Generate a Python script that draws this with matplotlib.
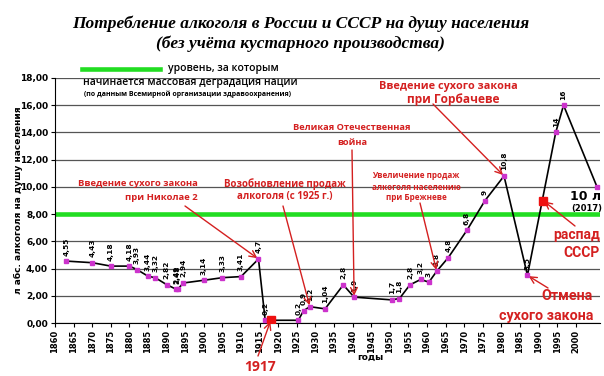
import matplotlib.pyplot as plt

# data
years = [1863, 1870, 1875, 1880, 1882, 1885, 1887, 1890, 1892.5, 1893, 1894.5,
         1900, 1905, 1910, 1914.7, 1916.5, 1925.4, 1926.8, 1928.5, 1932.6, 1937.5,
         1940.4, 1950.5, 1952.6, 1955.4, 1958.3, 1960.5, 1962.6, 1965.7, 1970.7,
         1975.6, 1980.7, 1987, 1994.6, 1996.7, 2005.7]
values = [4.55, 4.43, 4.18, 4.18, 3.93, 3.44, 3.32, 2.82, 2.49, 2.48, 2.94,
          3.14, 3.33, 3.41, 4.7, 0.2, 0.2, 0.9, 1.2, 1.04, 2.8,
          1.9, 1.7, 1.8, 2.8, 3.2, 3.0, 3.8, 4.8, 6.8,
          9.0, 10.8, 3.5, 14.0, 16.0, 10.0]
labels = ["4,55", "4,43", "4,18", "4,18", "3,93", "3,44", "3,32", "2,82", "2,49", "2,48", "2,94",
          "3,14", "3,33", "3,41", "4,7", "0,2", "0,2", "0,9", "1,2", "1,04", "2,8",
          "1,9", "1,7", "1,8", "2,8", "3,2", "3", "3,8", "4,8", "6,8",
          "9", "10,8", "3,5", "14", "16", ""]

# red squares: 1917 and USSR breakup
event_years = [1918, 1991.2]
event_values = [0.2, 9.0]

level = 8
xticks = list(range(1860, 2001, 5))
yticks = list(range(0, 19, 2))

RED = '#d42020'
W, H = 604, 376

fig = plt.figure(figsize=(W / 100, H / 100), dpi=100)
ax = fig.add_axes([55 / W, 1 - 323 / H, 545 / W, 245 / H])
ax.set_xlim(1860, 2006.5)
ax.set_ylim(0, 18)


def px(x, y):
    # image pixel (top-left origin) -> figure fraction
    return x / W, 1 - y / H


ax.set_yticks(yticks)
ax.set_yticklabels([("%.2f" % v).replace('.', ',') for v in yticks], fontsize=6.5, fontweight='bold')
ax.set_xticks(xticks)
ax.set_xticklabels([str(v) for v in xticks], rotation=90, fontsize=6, fontweight='bold')
ax.tick_params(axis='x', length=3, direction='out', pad=2)
ax.tick_params(axis='y', length=3, pad=2)
ax.yaxis.grid(True, color='#555555', lw=0.9)
ax.set_axisbelow(True)
for s in ['top', 'right']:
    ax.spines[s].set_visible(False)

ax.axhline(level, color='#22dd22', lw=3.3, zorder=2)

ax.plot(years, values, color='black', lw=1.2, zorder=3)
ax.plot(years, values, 's', ms=3.5, color='#cc33cc', zorder=4)
ax.plot(event_years, event_values, 's', ms=6, color='#ee1111', zorder=5)

for x, y, t in zip(years, values, labels):
    ax.annotate(t, (x, y), xytext=(0, 4), textcoords='offset points', rotation=90,
                ha='center', va='bottom', fontsize=5.3, fontweight='bold')

# titles
fig.text(*px(301, 24), "Потребление алкоголя в России и СССР на душу населения",
         ha='center', va='center', family='Liberation Serif', style='italic',
         fontweight='bold', fontsize=12.5)
fig.text(*px(300, 44), "(без учёта кустарного производства)",
         ha='center', va='center', family='Liberation Serif', style='italic',
         fontweight='bold', fontsize=12.5)

# legend for the green level
fig.add_artist(plt.Line2D([82 / W, 160 / W], [1 - 69 / H, 1 - 69 / H], color='#22dd22', lw=3.3))
fig.text(*px(168, 69), "уровень, за которым", ha='left', va='center', fontsize=7.5,
         family='Open Sans', fontweight='semibold')
fig.text(*px(190, 82), "начинается массовая деградация нации", ha='center', va='center',
         fontsize=7.5, family='Open Sans', fontweight='semibold')
fig.text(*px(188, 94), "(по данным Всемирной организации здравоохранения)", ha='center',
         va='center', fontsize=5, family='Open Sans', fontweight='bold')

fig.text(*px(18, 200), "л абс. алкоголя на душу населения", rotation=90, ha='center',
         va='center', fontsize=6.5, fontweight='bold')
fig.text(*px(370, 357), "годы", ha='center', va='center', fontsize=6.5, fontweight='bold')


# red comments
def note(x, y, s, size, family='Open Sans', **kw):
    fig.text(*px(x, y), s, ha=kw.pop('ha', 'center'), va='center', color=RED,
             fontsize=size, family=family, fontweight='bold', **kw)


note(198, 184, "Введение сухого закона", 6.8, ha='right')
note(198, 197, "при Николае 2", 6.8, ha='right')
note(285, 184, "Возобновление продаж", 7)
note(285, 197, "алкоголя (с 1925 г.)", 7)
note(352, 127, "Великая Отечественная", 6.7)
note(352, 143, "война", 6.7)
note(416, 175, "Увеличение продаж", 5.9)
note(416, 187, "алкоголя населению", 5.9)
note(416, 198, "при Брежневе", 5.9)
note(448, 86, "Введение сухого закона", 7.8)
note(453, 99, "при Горбачеве", 8.6)
note(260, 367, "1917", 10)
note(600, 235, "распад", 10, family='Roboto', ha='right')
note(600, 253, "СССР", 10, family='Roboto', ha='right')
note(593, 296, "Отмена", 10.3, family='Roboto', ha='right')
note(593, 316, "сухого закона", 10.3, family='Roboto', ha='right')

fig.text(*px(586, 196), "10 л", ha='center', va='center', fontsize=9, fontweight='bold')
fig.text(*px(587, 208), "(2017)", ha='center', va='center', fontsize=6, fontweight='bold')

# arrows: start in image pixels, tip on a data point
arrows = [((185, 206), (years[14], values[14])),
          ((283, 206), (years[18], values[18])),
          ((352, 150), (years[21], values[21])),
          ((420, 203), (years[27], values[27])),
          ((433, 104), (years[31], values[31])),
          ((258, 356), (event_years[0], event_values[0])),
          ((575, 226), (event_years[1], event_values[1])),
          ((548, 288), (years[32], values[32]))]
for start, tip in arrows:
    ax.annotate('', xy=tip, xycoords='data', xytext=px(*start), textcoords='figure fraction',
                arrowprops=dict(arrowstyle='->', color=RED, lw=1, shrinkA=0, shrinkB=1,
                                mutation_scale=12), annotation_clip=False)

fig.savefig('out.png', dpi=100)
